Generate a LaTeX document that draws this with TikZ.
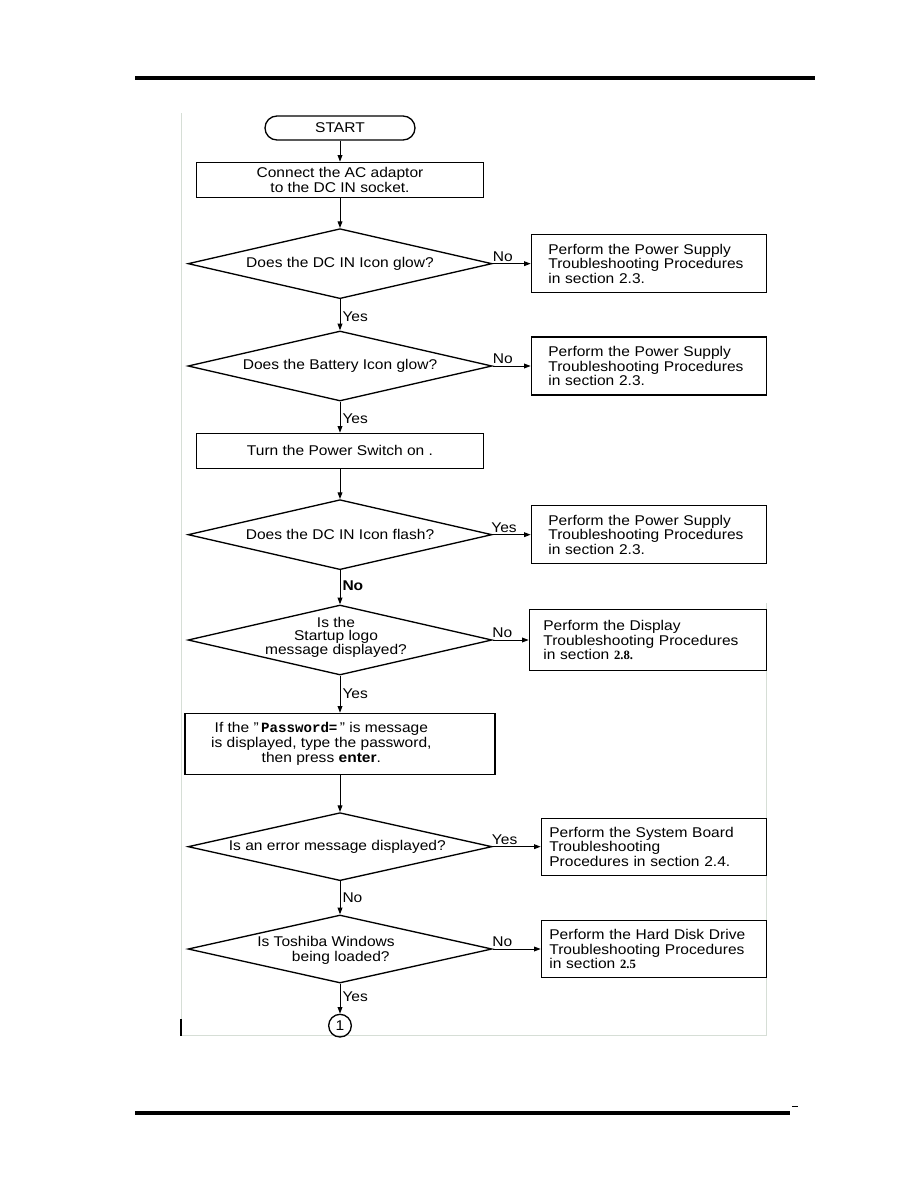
\documentclass[tikz,border=0pt]{standalone}
\usepackage{fontspec}
\setmainfont{Liberation Sans}[FakeStretch=1.1]
\newfontfamily\numfont{Liberation Serif}
\newfontfamily\codefont{Liberation Mono}
\usepackage{tikz}
\usetikzlibrary{
    arrows.meta,
    shapes.geometric,
    positioning
}
\definecolor{framegray}{rgb}{0.84, 0.87, 0.84}
\tikzstyle{startstop} = [
    rectangle,
    rounded corners=9pt,
    draw,
    minimum width=112.5pt,
    minimum height=18pt,
    inner sep=0pt
]
\tikzstyle{process} = [
    rectangle,
    draw,
    minimum width=215.25pt,
    minimum height=26.25pt,
    align=center,
    inner sep=0pt
]
\tikzstyle{decision} = [
    diamond,
    draw,
    minimum width=228pt,
    minimum height=52.5pt,
    inner sep=0pt
]
\tikzstyle{action} = [
    rectangle,
    draw,
    align=left,
    minimum height=43.5pt,
    inner xsep=12.75pt,
    text width=150.75pt
]
\tikzstyle{arrow} = [
    ->,
    >={Triangle[length=5pt, width=3.6pt]},
    line width=0.75pt
]
\tikzstyle{answer} = [
    inner sep=1.5pt
]

\begin{document}
\begin{tikzpicture}[x=0.75pt, y=-0.75pt, line width=1pt,
    font=\fontsize{10.6}{10.9}\selectfont]
        \useasboundingbox (0,0) rectangle (918,1188);

        % Page rules
        \draw[line width=3pt] (135,78) -- (815,78);
        \draw[line width=3pt] (135,1113) -- (790,1113);
        \draw[line width=0.6pt] (792,1106) -- (798,1106);

        % Scan frame
        \draw[framegray, line width=0.6pt] (181,113) -- (181,1035) -- (766,1035) -- (766,603);
        \draw[line width=1.5pt] (181,1019) -- (181,1036);

        % Start
        \node[startstop] (start) at (340,128) {START};
        \node[process, below=15.75pt of start] (connect) {Connect the AC adaptor\\to the DC IN socket.};

        % DC IN icon
        \node[decision, below=22.5pt of connect] (dcin) {};
        \node (dcintxt) at (dcin) {Does the DC IN Icon glow?};
        \node[action, right=28.5pt of dcin] (psu1) {Perform the Power Supply\\Troubleshooting Procedures\\in section 2.3.};

        % Battery icon
        \node[decision, below=23.25pt of dcin] (batt) {};
        \node (batttxt) at (batt) {Does the Battery Icon glow?};
        \node[action, right=28.5pt of batt] (psu2) {Perform the Power Supply\\Troubleshooting Procedures\\in section 2.3.};

        % Power switch
        \node[process, below=23.25pt of batt] (power) {Turn the Power Switch on .};

        % DC IN flash
        \node[decision, below=22.5pt of power] (flash) {};
        \node (flashtxt) at (flash) {Does the DC IN Icon flash?};
        \node[action, right=28.5pt of flash] (psu3) {Perform the Power Supply\\Troubleshooting Procedures\\in section 2.3.};

        % Startup logo
        \node[decision, below=25.5pt of flash] (logo) {};
        \node[align=center, font=\fontsize{10.6}{9.8}\selectfont] (logotxt) at ([xshift=-3pt, yshift=2pt]logo) {Is the\\Startup logo\\message displayed?};
        \node[action, right=27pt of logo, minimum height=45.75pt, inner xsep=10.5pt, text width=156.75pt] (disp) {Perform the Display\\Troubleshooting Procedures\\in section {\numfont\bfseries\fontsize{9.5}{10}\selectfont 2.8.}};

        % Password
        \node[process, below=27.75pt of logo, minimum width=232.5pt, minimum height=45.75pt] (passwd) {};
        \node[align=center] (passwdtxt) at ([xshift=-14pt]passwd) {If the "\,{\codefont\bfseries Password=}\," is message\\is displayed, type the password,\\then press \textbf{enter}.};

        % Error message
        \node[decision, below=27.75pt of passwd, minimum height=51pt] (error) {};
        \node (errortxt) at ([xshift=-2pt]error) {Is an error message displayed?};
        \node[action, right=36pt of error, minimum height=42.75pt, inner xsep=6pt, text width=156.75pt] (sysb) {Perform the System Board\\Troubleshooting\\Procedures in section 2.4.};

        % Windows
        \node[decision, below=24.75pt of error, minimum height=51pt] (win) {};
        \node[align=left] (wintxt) at ([xshift=-10.5pt, yshift=-1pt]win) {Is Toshiba Windows\\\hspace*{26pt}being loaded?};
        \node[action, right=36pt of win, minimum height=42.75pt, inner xsep=6pt, text width=156.75pt] (hdd) {Perform the Hard Disk Drive\\Troubleshooting Procedures\\in section {\numfont\bfseries\fontsize{9.5}{10}\selectfont 2.5}};

        % Continue
        \node[circle, draw, minimum size=17pt, inner sep=0pt, below=22.5pt of win] (cont) {1};

        % Arrows
        \draw[arrow] (start) -- (connect);
        \draw[arrow] (connect) -- (dcin);
        \draw[arrow] (dcin) -- node[answer, above, pos=0.27] {No} (psu1);
        \draw[arrow] (dcin) -- node[answer, right, pos=0.55] {Yes} (batt);
        \draw[arrow] (batt) -- node[answer, above, pos=0.27] {No} (psu2);
        \draw[arrow] (batt) -- node[answer, right, pos=0.55] {Yes} (power);
        \draw[arrow] (power) -- (flash);
        \draw[arrow] (flash) -- node[answer, above, pos=0.3] {Yes} (psu3);
        \draw[arrow] (flash) -- node[answer, right, pos=0.45] {\bfseries No} (logo);
        \draw[arrow] (logo) -- node[answer, above, pos=0.27] {No} (disp);
        \draw[arrow] (logo) -- node[answer, right, pos=0.5] {Yes} (passwd);
        \draw[arrow] (passwd) -- (error);
        \draw[arrow] (error) -- node[answer, above, pos=0.25] {Yes} (sysb);
        \draw[arrow] (error) -- node[answer, right, pos=0.5] {No} (win);
        \draw[arrow] (win) -- node[answer, above, pos=0.2] {No} (hdd);
        \draw[arrow] (win) -- node[answer, right, pos=0.45] {Yes} (cont);
    \end{tikzpicture}
\end{document}
